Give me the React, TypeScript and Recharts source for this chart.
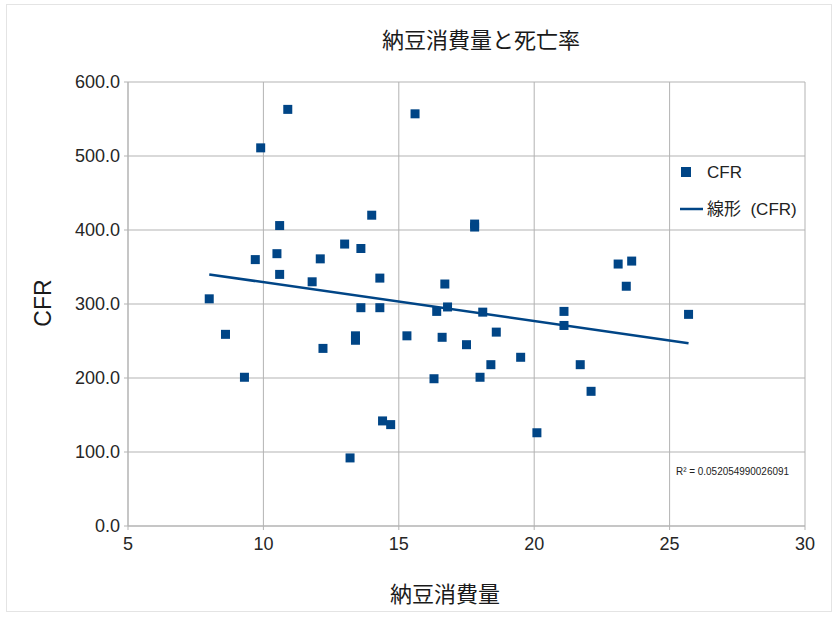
import React from 'react';
import { ScatterChart, Scatter, XAxis, YAxis, CartesianGrid, Legend } from 'recharts';

const nattoConsumption: number[] = [
  8.0, 8.6, 9.3, 9.7, 9.9, 10.9, 10.6, 10.5, 10.6, 11.8,
  12.1, 12.2, 13.0, 13.6, 14.0, 14.3, 13.6, 14.3, 15.6, 13.4,
  13.4, 15.3, 14.4, 14.7, 13.2, 17.8, 17.8, 16.7, 23.1, 23.6,
  23.4, 16.4, 16.8, 18.1, 21.1, 21.1, 25.7, 16.6, 17.5, 18.6,
  19.5, 18.4, 21.7, 16.3, 18.0, 22.1, 20.1,
];
const cfrValues: number[] = [
  307, 259, 201, 360, 511, 563, 406, 368, 340, 330,
  361, 240, 381, 375, 420, 335, 295, 295, 557, 257,
  251, 257, 142, 137, 92, 408, 404, 327, 354, 358,
  324, 290, 296, 289, 290, 271, 286, 255, 245, 262,
  228, 218, 218, 199, 201, 182, 126,
];
const trendX: number[] = [8.0, 25.7];
const trendY: number[] = [340, 247];
const xTicks: number[] = [5, 10, 15, 20, 25, 30];
const yTicks: number[] = [0, 100, 200, 300, 400, 500, 600];

const points = nattoConsumption.map((x, i) => ({ x, y: cfrValues[i] }));
const trend = trendX.map((x, i) => ({ x, y: trendY[i] }));

const BLUE = '#004586';
const GRID = '#b3b3b3';

const SquareShape = (props: any) => {
  const { cx, cy } = props;
  return <rect x={cx - 4.5} y={cy - 4.5} width={9} height={9} fill={BLUE} />;
};
const EmptyShape = () => <g />;

const LegendContent = () => (
  <svg width={140} height={60} style={{ display: 'block' }}>
    <rect x={5} y={6} width={10} height={10} fill={BLUE} />
    <text x={31} y={11} dominantBaseline="central" fontSize={17} fill="#222" fontFamily="Liberation Sans">CFR</text>
    <line x1={4} x2={27} y1={48} y2={48} stroke={BLUE} strokeWidth={2.5} />
    <text x={31} y={48} dominantBaseline="central" fontSize={17} fill="#222" fontFamily="'Liberation Sans', 'Noto Sans CJK JP'" style={{ whiteSpace: 'pre' }}>{'線形  (CFR)'}</text>
  </svg>
);

export default function App() {
  return (
    <div style={{ position: 'absolute', left: 0, top: 0, width: 837, height: 619, background: '#fff', fontFamily: 'Liberation Sans' }}>
      <ScatterChart width={837} height={619} margin={{ top: 82, right: 32, bottom: 0, left: 0 }}>
        <CartesianGrid stroke={GRID} strokeWidth={1} />
        <XAxis
          type="number"
          dataKey="x"
          domain={[5, 30]}
          ticks={xTicks}
          height={93}
          allowDataOverflow
          stroke={GRID}
          tickSize={4}
          tickMargin={7}
          tick={{ fontSize: 18, fill: '#262626', fontFamily: 'Liberation Sans' }}
        />
        <YAxis
          type="number"
          dataKey="y"
          domain={[0, 600]}
          ticks={yTicks}
          width={128}
          allowDataOverflow
          stroke={GRID}
          tickSize={4}
          tickMargin={4}
          tickFormatter={(v: number) => v.toFixed(1)}
          tick={{ fontSize: 18, fill: '#262626', fontFamily: 'Liberation Sans' }}
        />
        <Scatter name="CFR" data={points} fill={BLUE} shape={SquareShape} isAnimationActive={false} />
        <Scatter
          name="線形 (CFR)"
          data={trend}
          fill={BLUE}
          line={{ stroke: BLUE, strokeWidth: 2.5 }}
          shape={EmptyShape}
          isAnimationActive={false}
        />
        <Legend
          layout="vertical"
          align="center"
          verticalAlign="middle"
          content={LegendContent}
          wrapperStyle={{ position: 'absolute', left: 676, top: 161, width: 140, height: 60 }}
        />
      </ScatterChart>
      <svg width={837} height={619} style={{ position: 'absolute', left: 0, top: 0, pointerEvents: 'none' }}>
        <rect x={6.5} y={4.5} width={825} height={607} fill="none" stroke="#e4e4e4" strokeWidth={1} />
        <text x={481} y={38} textAnchor="middle" dominantBaseline="central" fontSize={22} fill="#1a1a1a" fontFamily="'Noto Sans CJK JP'">納豆消費量と死亡率</text>
        <text x={445} y={592} textAnchor="middle" dominantBaseline="central" fontSize={22} fill="#1a1a1a" fontFamily="'Noto Sans CJK JP'">納豆消費量</text>
        <text x={43} y={303} textAnchor="middle" dominantBaseline="central" fontSize={23} fill="#1a1a1a" fontFamily="Liberation Sans" transform="rotate(-90 43 303)">CFR</text>
        <text x={676} y={471} dominantBaseline="central" fontSize={10.5} fill="#222" fontFamily="Liberation Sans" textLength={113} lengthAdjust="spacingAndGlyphs">R² = 0.052054990026091</text>
      </svg>
    </div>
  );
}
